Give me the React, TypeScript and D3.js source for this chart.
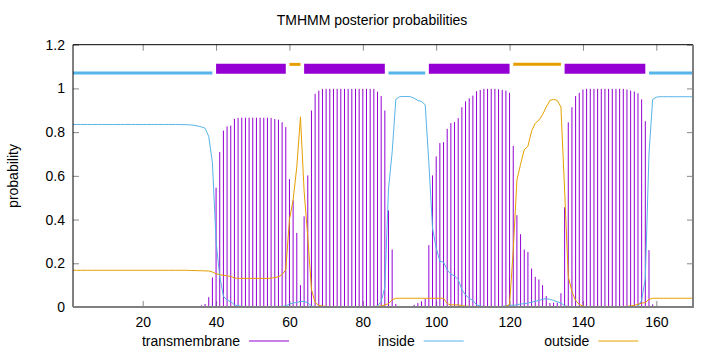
import { useEffect, useRef } from 'react';
import * as d3 from 'd3';

// posterior probabilities per residue (1..170)
const tmProb = [
  0, 0, 0, 0, 0, 0, 0, 0, 0, 0,
  0, 0, 0, 0, 0, 0, 0, 0, 0, 0,
  0, 0, 0, 0, 0, 0, 0, 0, 0, 0.001,
  0.001, 0.002, 0.002, 0.003, 0.005, 0.008, 0.014, 0.045, 0.135, 0.546,
  0.709, 0.807, 0.826, 0.83, 0.861, 0.865, 0.866, 0.866, 0.866, 0.866,
  0.866, 0.866, 0.866, 0.866, 0.865, 0.86, 0.857, 0.845, 0.823, 0.585,
  0.488, 0.339, 0.1, 0.415, 0.602, 0.899, 0.975, 0.99, 0.997, 0.998,
  0.998, 0.998, 0.998, 0.998, 0.998, 0.998, 0.998, 0.998, 0.998, 0.998,
  0.998, 0.998, 0.998, 0.985, 0.965, 0.899, 0.442, 0.263, 0.014, 0.004,
  0.002, 0.002, 0.004, 0.01, 0.018, 0.026, 0.037, 0.283, 0.602, 0.689,
  0.75, 0.754, 0.815, 0.841, 0.846, 0.864, 0.914, 0.941, 0.955, 0.967,
  0.987, 0.993, 0.998, 0.998, 0.998, 0.998, 0.996, 0.993, 0.99, 0.98,
  0.737, 0.42, 0.333, 0.263, 0.252, 0.176, 0.138, 0.126, 0.1, 0.05,
  0.018, 0.02, 0.02, 0.063, 0.456, 0.845, 0.914, 0.965, 0.98, 0.995,
  0.998, 0.998, 0.998, 0.998, 0.998, 0.998, 0.998, 0.998, 0.998, 0.998,
  0.998, 0.995, 0.99, 0.986, 0.978, 0.95, 0.85, 0.26, 0.012, 0.005,
  0.002, 0.001, 0, 0, 0, 0, 0, 0, 0, 0,
];

const insideProb = [
  0.835, 0.835, 0.835, 0.835, 0.835, 0.835, 0.835, 0.835, 0.835, 0.835,
  0.835, 0.835, 0.835, 0.835, 0.835, 0.835, 0.835, 0.835, 0.835, 0.835,
  0.835, 0.835, 0.835, 0.835, 0.835, 0.835, 0.835, 0.835, 0.835, 0.835,
  0.834, 0.834, 0.833, 0.831, 0.828, 0.824, 0.818, 0.78, 0.66, 0.3,
  0.14, 0.05, 0.03, 0.025, 0.01, 0.005, 0.003, 0.002, 0.002, 0.002,
  0.002, 0.002, 0.002, 0.002, 0.002, 0.002, 0.002, 0.003, 0.005, 0.014,
  0.018, 0.021, 0.025, 0.025, 0.02, 0.004, 0.002, 0.001, 0.001, 0.001,
  0.001, 0.001, 0.001, 0.001, 0.001, 0.001, 0.001, 0.001, 0.001, 0.001,
  0.001, 0.001, 0.002, 0.005, 0.025, 0.09, 0.54, 0.71, 0.95, 0.962,
  0.963, 0.963, 0.962, 0.955, 0.945, 0.94, 0.925, 0.66, 0.36, 0.27,
  0.21, 0.205, 0.17, 0.15, 0.142, 0.125, 0.08, 0.055, 0.04, 0.03,
  0.01, 0.005, 0.002, 0.001, 0.001, 0.001, 0.002, 0.003, 0.005, 0.008,
  0.008, 0.01, 0.014, 0.015, 0.018, 0.022, 0.026, 0.03, 0.035, 0.038,
  0.035, 0.03, 0.024, 0.018, 0.006, 0.002, 0.001, 0.001, 0.001, 0.001,
  0.001, 0.001, 0.001, 0.001, 0.001, 0.001, 0.001, 0.001, 0.001, 0.001,
  0.001, 0.001, 0.001, 0.001, 0.002, 0.03, 0.13, 0.7, 0.95, 0.96,
  0.962, 0.962, 0.962, 0.962, 0.962, 0.962, 0.962, 0.962, 0.962, 0.962,
];

const outsideProb = [
  0.168, 0.168, 0.168, 0.168, 0.168, 0.168, 0.168, 0.168, 0.168, 0.168,
  0.168, 0.168, 0.168, 0.168, 0.168, 0.168, 0.168, 0.168, 0.168, 0.168,
  0.168, 0.168, 0.168, 0.168, 0.168, 0.168, 0.168, 0.168, 0.168, 0.168,
  0.168, 0.168, 0.167, 0.167, 0.166, 0.166, 0.165, 0.165, 0.16, 0.152,
  0.148, 0.145, 0.142, 0.14, 0.133, 0.131, 0.131, 0.131, 0.131, 0.131,
  0.131, 0.131, 0.131, 0.131, 0.132, 0.135, 0.138, 0.148, 0.17, 0.4,
  0.49, 0.64, 0.87, 0.53, 0.32, 0.08, 0.02, 0.008, 0.004, 0.003,
  0.002, 0.002, 0.002, 0.002, 0.002, 0.002, 0.002, 0.002, 0.002, 0.002,
  0.002, 0.002, 0.002, 0.003, 0.005, 0.01, 0.015, 0.033, 0.04, 0.04,
  0.04, 0.04, 0.04, 0.04, 0.04, 0.04, 0.04, 0.04, 0.04, 0.04,
  0.04, 0.04, 0.015, 0.01, 0.01, 0.01, 0.006, 0.004, 0.003, 0.002,
  0.002, 0.002, 0.002, 0.002, 0.002, 0.002, 0.002, 0.002, 0.003, 0.012,
  0.26, 0.58, 0.653, 0.72, 0.735, 0.805, 0.84, 0.855, 0.88, 0.915,
  0.945, 0.95, 0.945, 0.915, 0.535, 0.14, 0.07, 0.03, 0.012, 0.004,
  0.002, 0.002, 0.002, 0.002, 0.002, 0.002, 0.002, 0.002, 0.002, 0.002,
  0.002, 0.003, 0.005, 0.008, 0.012, 0.018, 0.02, 0.035, 0.04, 0.04,
  0.04, 0.04, 0.04, 0.04, 0.04, 0.04, 0.04, 0.04, 0.04, 0.04,
];

// predicted topology segments (residue ranges)
const tmRegions = [[40, 59], [64, 86], [98, 120], [135, 157]];
const insideRegions = [[1, 39], [87, 97], [158, 170]];
const outsideRegions = [[60, 63], [121, 134]];

const xTicks = [20, 40, 60, 80, 100, 120, 140, 160];
const yTicks = [0, 0.2, 0.4, 0.6, 0.8, 1, 1.2];
const legendLabels = ['transmembrane', 'inside', 'outside'];

const TM_COLOR = '#9400d3';
const IN_COLOR = '#56b4e9';
const OUT_COLOR = '#e69f00';
const FONT = '"Liberation Sans", Arial, Helvetica, sans-serif';

export default function App() {
  const svgRef = useRef(null);

  useEffect(() => {
    const svg = d3.select(svgRef.current);
    svg.selectAll('*').remove();

    const left = 73, right = 693, top = 44.7, bottom = 307;
    const x = d3.scaleLinear().domain([1, 170]).range([left, right]);
    const y = d3.scaleLinear().domain([0, 1.2]).range([bottom, top]);

    svg.append('rect').attr('width', 720).attr('height', 352).attr('fill', '#fff');

    // title
    svg.append('text')
      .attr('x', 372)
      .attr('y', 25)
      .attr('text-anchor', 'middle')
      .style('font-size', '14px')
      .text('TMHMM posterior probabilities');

    // y label
    svg.append('text')
      .attr('transform', 'rotate(-90)')
      .attr('x', -176)
      .attr('y', 18)
      .attr('text-anchor', 'middle')
      .style('font-size', '14px')
      .text('probability');

    // axes (inward ticks, mirrored)
    const ax = svg.append('g');
    ax.append('g')
      .attr('transform', `translate(${left},0)`)
      .call(d3.axisLeft(y).tickValues(yTicks).tickSize(-6).tickPadding(8).tickFormat(d3.format('~g')));
    ax.append('g')
      .attr('transform', `translate(${right},0)`)
      .call(d3.axisRight(y).tickValues(yTicks).tickSize(-6).tickFormat(() => ''));
    ax.append('g')
      .attr('transform', `translate(0,${bottom})`)
      .call(d3.axisBottom(x).tickValues(xTicks).tickSize(-6).tickPadding(10));
    ax.append('g')
      .attr('transform', `translate(0,${top})`)
      .call(d3.axisTop(x).tickValues(xTicks).tickSize(-6).tickFormat(() => ''));
    ax.selectAll('.domain').remove();
    ax.selectAll('.tick line').attr('stroke', '#888');
    ax.selectAll('.tick text').attr('fill', '#000').style('font-size', '14px').style('font-family', FONT);

    // TM impulses
    const residues = d3.range(1, 171);
    svg.append('g')
      .selectAll('line')
      .data(residues)
      .enter()
      .append('line')
      .attr('x1', d => x(d))
      .attr('x2', d => x(d))
      .attr('y1', y(0))
      .attr('y2', d => y(tmProb[d - 1]))
      .attr('stroke', TM_COLOR)
      .attr('stroke-width', 1);

    const line = d3.line<number>().x(d => x(d)).y(d => y(0));

    svg.append('path')
      .attr('d', line.y(d => y(insideProb[d - 1]))(residues))
      .attr('fill', 'none')
      .attr('stroke', IN_COLOR)
      .attr('stroke-width', 1);

    svg.append('path')
      .attr('d', line.y(d => y(outsideProb[d - 1]))(residues))
      .attr('fill', 'none')
      .attr('stroke', OUT_COLOR)
      .attr('stroke-width', 1);

    // topology bars
    const bars = svg.append('g');
    const drawBars = (regions, level, color, width) => {
      bars.selectAll(null)
        .data(regions)
        .enter()
        .append('line')
        .attr('x1', d => x(d[0]))
        .attr('x2', d => x(d[1]))
        .attr('y1', y(level))
        .attr('y2', y(level))
        .attr('stroke', color)
        .attr('stroke-width', width);
    };
    drawBars(insideRegions, 1.07, IN_COLOR, 3);
    drawBars(outsideRegions, 1.11, OUT_COLOR, 3);
    drawBars(tmRegions, 1.09, TM_COLOR, 10);

    // border
    svg.append('line').attr('x1', left).attr('x2', left).attr('y1', top).attr('y2', bottom)
      .attr('stroke', '#000').attr('stroke-width', 1);
    svg.append('line').attr('x1', left).attr('x2', right).attr('y1', top).attr('y2', top)
      .attr('stroke', '#000').attr('stroke-width', 1);
    svg.append('line').attr('x1', left).attr('x2', right + 1).attr('y1', bottom).attr('y2', bottom)
      .attr('stroke', '#808080').attr('stroke-width', 2);
    svg.append('line').attr('x1', right).attr('x2', right).attr('y1', top).attr('y2', bottom)
      .attr('stroke', '#808080').attr('stroke-width', 2);

    // legend
    const legendColors = [TM_COLOR, IN_COLOR, OUT_COLOR];
    const lg = svg.append('g')
      .selectAll('g')
      .data(legendLabels)
      .enter()
      .append('g')
      .attr('transform', (d, i) => `translate(${249 + i * 174.7},0)`);
    lg.append('text')
      .attr('x', -9)
      .attr('y', 346)
      .attr('text-anchor', 'end')
      .style('font-size', '14px')
      .text(d => d);
    lg.append('line')
      .attr('x1', 0)
      .attr('x2', 40)
      .attr('y1', 341)
      .attr('y2', 341)
      .attr('stroke', (d, i) => legendColors[i])
      .attr('stroke-width', 1);
  }, []);

  return (
    <svg
      ref={svgRef}
      width={720}
      height={352}
      style={{ position: 'absolute', left: 0, top: 0, fontFamily: FONT }}
    />
  );
}
